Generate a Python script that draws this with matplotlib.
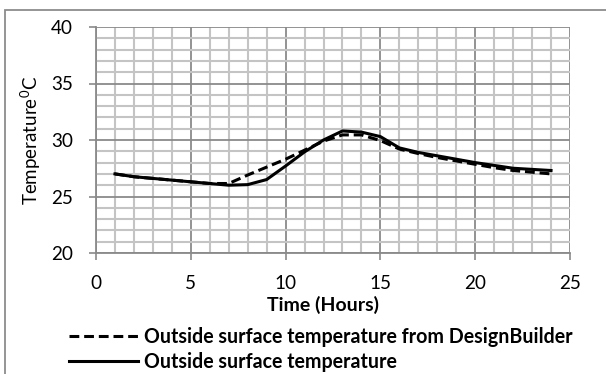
import matplotlib
matplotlib.use("Agg")
import matplotlib.pyplot as plt
from matplotlib.patches import Rectangle
from matplotlib.ticker import MultipleLocator

# hourly values
hours = [1, 2, 3, 4, 5, 6, 7, 8, 9, 10, 11, 12, 13, 14, 15, 16, 17, 18, 19, 20, 21, 22, 23, 24]
designbuilder = [27.0, 26.75, 26.6, 26.45, 26.3, 26.15, 26.15, 26.9, 27.6, 28.3, 29.1, 29.9,
                 30.45, 30.45, 29.95, 29.2, 28.8, 28.45, 28.15, 27.85, 27.55, 27.3, 27.15, 27.0]
outside = [27.0, 26.75, 26.6, 26.45, 26.3, 26.15, 26.0, 26.05, 26.5, 27.7, 28.95, 30.0,
           30.8, 30.7, 30.3, 29.3, 28.9, 28.6, 28.3, 28.0, 27.75, 27.5, 27.4, 27.3]
x_ticks = [0, 5, 10, 15, 20, 25]
y_ticks = [20, 25, 30, 35, 40]
labels = ['Outside surface temperature from DesignBuilder', 'Outside surface temperature']

plt.rcParams['font.family'] = ['Lato', 'DejaVu Sans']
plt.rcParams['mathtext.fontset'] = 'custom'
plt.rcParams['mathtext.rm'] = 'Lato'

W, H = 606, 374
fig = plt.figure(figsize=(W / 100, H / 100), dpi=100)
renderer = fig.canvas.get_renderer()


def text_box(s, size, **kw):
    t = fig.text(0, 0, s, fontsize=size, **kw)
    bb = t.get_window_extent(renderer)
    t.remove()
    return bb


def fit_size(s, target, **kw):
    # font size that makes the text span `target` pixels wide
    return 10 * target / text_box(s, 10, **kw).width


# outer chart frame (cut off at right and bottom in the reference)
fig.patches.append(Rectangle((5 / W, -0.1), 1.2, 1 - 10 / H + 0.1, transform=fig.transFigure,
                             fill=False, edgecolor='#8c8c8c', linewidth=1.3))

ax = fig.add_axes([96 / W, (H - 253) / H, 474 / W, 226 / H])
ax.set_xlim(0, 25)
ax.set_ylim(20, 40)
ax.set_xticks(x_ticks)
ax.set_yticks(y_ticks)
ax.xaxis.set_minor_locator(MultipleLocator(1))
ax.yaxis.set_minor_locator(MultipleLocator(1))
ax.grid(which='minor', color='#c4c4c4', linewidth=1.5)
ax.grid(which='major', color='#8a8a8a', linewidth=1.3)
ax.set_axisbelow(True)
for s in ['top', 'right']:
    ax.spines[s].set_visible(False)
for s in ['left', 'bottom']:
    ax.spines[s].set_color('#8a8a8a')
    ax.spines[s].set_linewidth(1.3)
ax.tick_params(which='major', length=5, width=1.2, color='#8a8a8a', labelsize=13.6)
ax.tick_params(which='minor', length=0)
ax.tick_params(axis='x', pad=11)
ax.tick_params(axis='y', pad=11.5)

ax.plot(hours, designbuilder, color='black', linewidth=2.2, linestyle=(0, (3.2, 1.6)),
        label=labels[0], zorder=3)
ax.plot(hours, outside, color='black', linewidth=2.2, label=labels[1], zorder=4)

fs_time = fit_size('Time (Hours)', 112, fontweight='bold')
fig.text(323 / W, 1 - 305 / H, 'Time (Hours)', ha='center', va='center',
         fontsize=fs_time, fontweight='bold')
ylab = 'Temperature$^{0}$C'
fs_y = fit_size(ylab, 130)
fig.text(31 / W, 1 - 140 / H, ylab, ha='center', va='center', rotation=90, fontsize=fs_y)

# legend: two rows 25 px apart, centred on y = 349.5 px
fs_leg = fit_size(labels[0], 429, fontweight='bold')
em = fs_leg * 100 / 72
row_h = text_box(labels[0], fs_leg, fontweight='bold').height
fig.legend(loc='center left', bbox_to_anchor=(69 / W, 1 - 349.5 / H), frameon=False,
           handlelength=69 / em, handletextpad=6 / em, labelspacing=(25 - row_h) / em,
           borderpad=0, borderaxespad=0, prop={'weight': 'bold', 'size': fs_leg})

fig.savefig('out.png', dpi=100)
